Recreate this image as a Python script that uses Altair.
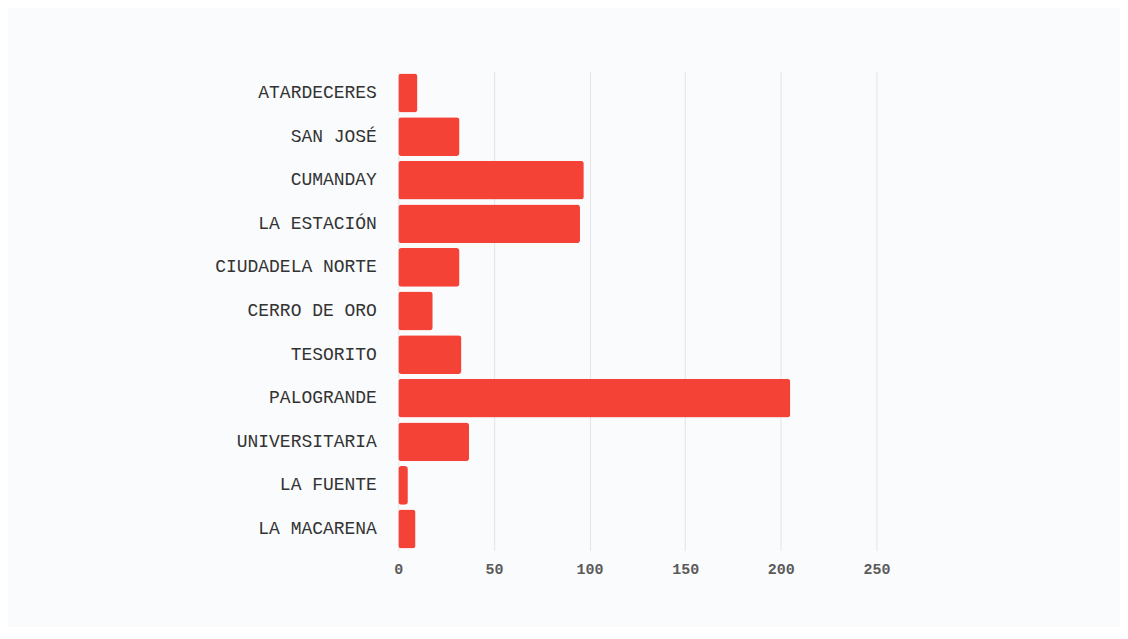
import altair as alt
import pandas as pd

barrios = ["ATARDECERES", "SAN JOSÉ", "CUMANDAY", "LA ESTACIÓN", "CIUDADELA NORTE",
           "CERRO DE ORO", "TESORITO", "PALOGRANDE", "UNIVERSITARIA", "LA FUENTE", "LA MACARENA"]
valores = [10, 32, 97, 95, 32, 18, 33, 205, 37, 5, 9]
ticks = [0, 50, 100, 150, 200, 250]

df = pd.DataFrame({"barrio": barrios, "valor": valores})

chart = alt.Chart(df).mark_bar(
    color="#f44336", cornerRadius=3
).encode(
    x=alt.X("valor:Q", scale=alt.Scale(domain=[0, 250], nice=False),
            axis=alt.Axis(values=ticks, title=None, domain=False, ticks=False,
                          grid=True, gridColor="#e4e4e6", gridWidth=1,
                          labelFont="Liberation Mono", labelFontSize=15, labelFlush=False,
                          labelFontWeight="bold", labelColor="#5a5a5a", labelPadding=11)),
    y=alt.Y("barrio:N", sort=None,
            scale=alt.Scale(paddingInner=0.11, paddingOuter=0.05),
            axis=alt.Axis(title=None, domain=False, ticks=False, grid=False,
                          labelFont="Liberation Mono", labelFontSize=18,
                          labelColor="#333333", labelPadding=22,
                          minExtent=386, maxExtent=386, labelLimit=380)),
).properties(
    width=479, height=480,
    background="#fafbfd",
    padding={"left": 5, "top": 63, "right": 230, "bottom": 50},
).configure_view(stroke=None)

chart.save("out.html", embed_options={"renderer": "svg", "actions": False})
